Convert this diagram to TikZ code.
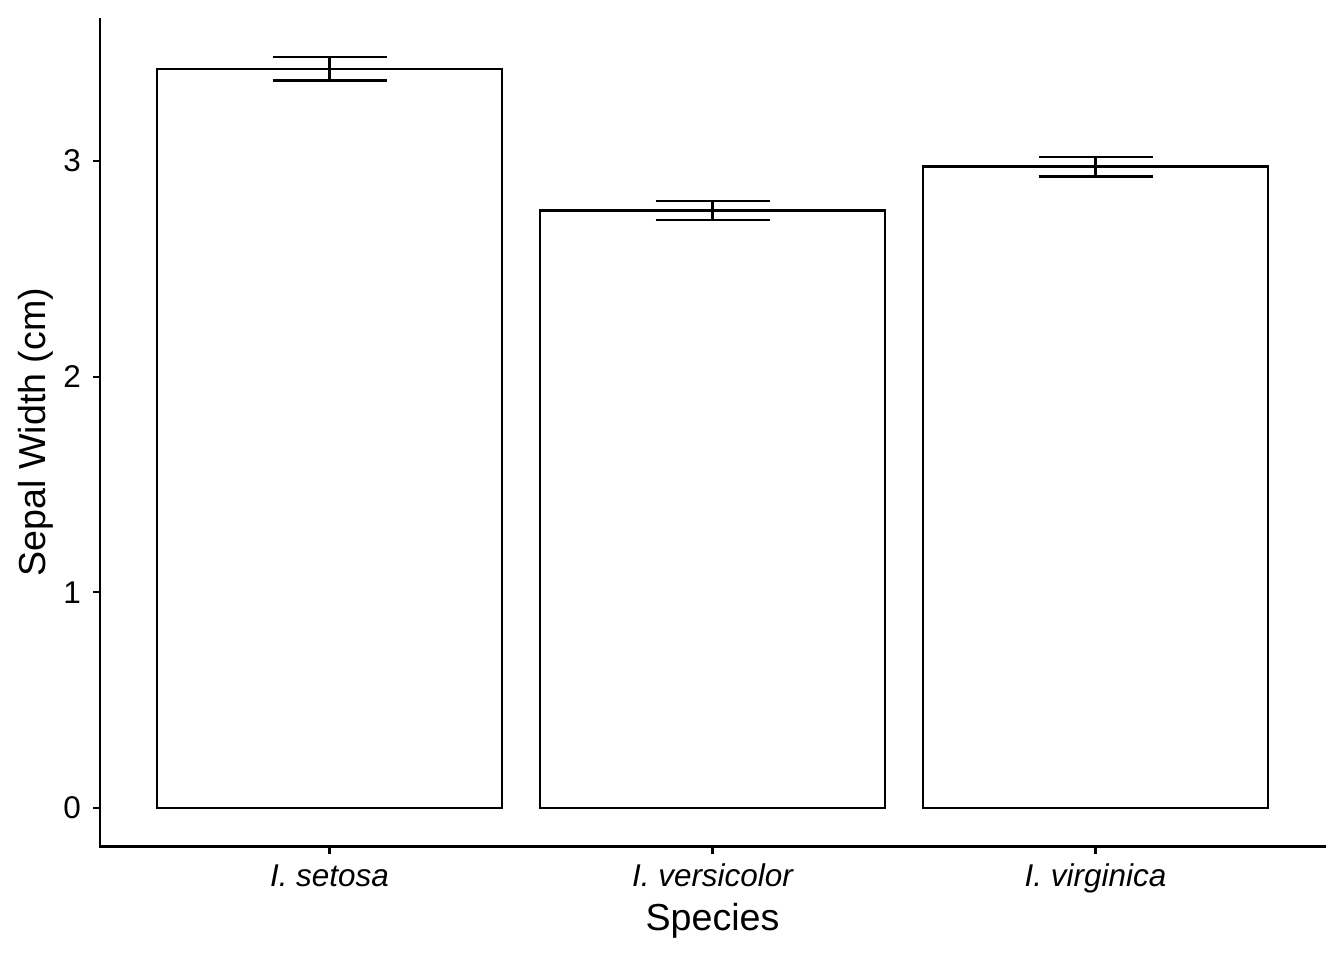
\documentclass[tikz,border=0pt]{standalone}
\usepackage{fontspec}
\setmainfont{Liberation Sans}
\begin{document}
\begin{tikzpicture}[x=0.375pt,y=-0.375pt,line width=0.85pt,
  bar/.style={draw=black,fill=white},
  ticklab/.style={inner sep=0pt,font=\fontsize{11.8}{13}\selectfont},
  axtitle/.style={inner sep=0pt,font=\fontsize{14.1}{16}\selectfont}]
\useasboundingbox (0,0) rectangle (1344,960);

% axes
\draw (100,18) -- (100,846.5) -- (1326,846.5);

% y ticks
\foreach \v in {0,1,2,3}{
  \pgfmathsetmacro\py{808-215.67*\v}
  \draw (93,\py) -- (100,\py);
  \node[ticklab,anchor=east] (ytick\v) at (82,\py) {\v};
}

% bars with error bars
\foreach \cx/\m/\se/\nm/\lab in {329.5/3.428/0.0545/set/setosa,
    712.5/2.770/0.0444/ver/versicolor, 1095.5/2.974/0.0456/vir/virginica}{
  \pgfmathsetmacro\ptop{808-215.67*\m}
  \pgfmathsetmacro\phi{808-215.67*(\m+\se)}
  \pgfmathsetmacro\plo{808-215.67*(\m-\se)}
  \draw[bar] (\cx-172.5,808) rectangle (\cx+172.5,\ptop);
  \draw (\cx,\phi) -- (\cx,\plo)
        (\cx-57,\phi) -- (\cx+57,\phi)
        (\cx-57,\plo) -- (\cx+57,\plo);
  \draw (\cx,846.5) -- (\cx,854);
  \node[ticklab,anchor=base] (xtick\nm) at (\cx,886) {\itshape I. \lab};
}

% titles
\node[axtitle,anchor=base] (xtitle) at (712.5,930) {Species};
\node[axtitle,rotate=90] (ytitle) at (36,432) {Sepal Width (cm)};
\end{tikzpicture}
\end{document}
